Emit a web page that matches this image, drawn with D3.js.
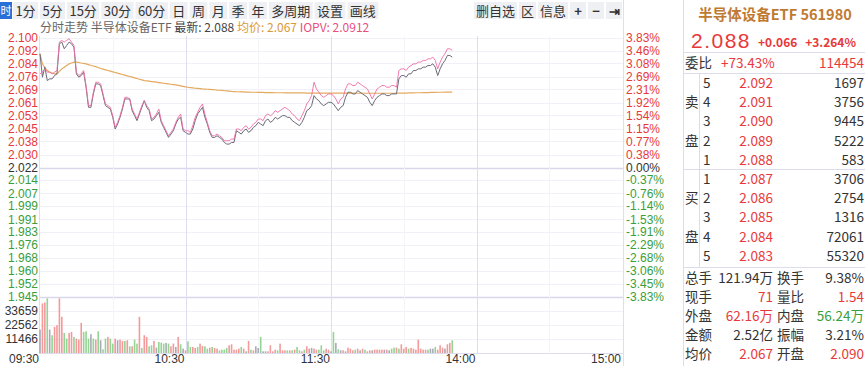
<!DOCTYPE html>
<html>
<head>
<meta charset="utf-8">
<title></title>
<script src="https://d3js.org/d3.v7.min.js"></script>
<style>
body { margin: 0; background: #fff; }
svg text { font-family: "Noto Sans CJK SC", "Liberation Sans", sans-serif; }
.ax text { font-family: "Liberation Sans", Arial, sans-serif; font-size: 12px; }
</style>
</head>
<body>
<script>
// ---- data ----
var preClose = 2.022;
var tabs = ["1分", "5分", "15分", "30分", "60分", "日", "周", "月", "季", "年", "多周期", "设置", "画线"];
var tools = ["删自选", "区", "信息", "+", "−", "⇥"];

var price = [
  2.090,2.076,2.082,2.074,2.075,2.075,2.077,2.078,2.096,2.097,
  2.093,2.095,2.097,2.096,2.094,2.078,2.076,2.077,2.079,2.070,
  2.058,2.058,2.066,2.072,2.072,2.071,2.065,2.059,2.058,2.057,
  2.052,2.045,2.048,2.052,2.057,2.063,2.063,2.063,2.056,2.053,
  2.050,2.054,2.058,2.062,2.058,2.056,2.050,2.051,2.053,2.055,
  2.049,2.046,2.043,2.040,2.042,2.044,2.048,2.051,2.052,2.044,
  2.043,2.042,2.042,2.045,2.050,2.054,2.056,2.058,2.052,2.048,
  2.043,2.040,2.040,2.041,2.040,2.039,2.037,2.036,2.036,2.037,
  2.037,2.044,2.043,2.042,2.044,2.045,2.043,2.044,2.046,2.047,
  2.049,2.048,2.047,2.050,2.051,2.049,2.050,2.052,2.051,2.052,
  2.053,2.053,2.052,2.052,2.050,2.049,2.048,2.047,2.049,2.052,
  2.056,2.057,2.059,2.065,2.063,2.062,2.060,2.059,2.060,2.061,
  2.061,2.060,2.058,2.056,2.058,2.059,2.064,2.067,2.067,2.066,
  2.066,2.068,2.067,2.066,2.065,2.064,2.061,2.059,2.062,2.064,
  2.065,2.066,2.066,2.065,2.065,2.066,2.066,2.066,2.075,2.077,
  2.077,2.076,2.078,2.078,2.080,2.080,2.081,2.081,2.082,2.082,
  2.083,2.083,2.084,2.082,2.077,2.081,2.084,2.086,2.089,2.089,2.088
];

var iopv = [
  2.078,2.079,2.081,2.079,2.079,2.078,2.079,2.080,2.097,2.098,
  2.097,2.098,2.099,2.097,2.095,2.079,2.077,2.078,2.080,2.071,
  2.059,2.059,2.067,2.073,2.073,2.072,2.066,2.060,2.059,2.058,
  2.053,2.046,2.049,2.053,2.058,2.064,2.064,2.063,2.057,2.054,
  2.051,2.055,2.059,2.062,2.059,2.057,2.051,2.052,2.054,2.057,
  2.050,2.047,2.044,2.041,2.043,2.045,2.049,2.052,2.054,2.045,
  2.044,2.044,2.043,2.047,2.052,2.055,2.058,2.060,2.054,2.049,
  2.044,2.041,2.041,2.042,2.041,2.040,2.038,2.038,2.038,2.039,
  2.039,2.045,2.045,2.044,2.046,2.047,2.045,2.046,2.048,2.049,
  2.051,2.051,2.050,2.053,2.054,2.053,2.054,2.056,2.055,2.056,
  2.057,2.058,2.057,2.056,2.054,2.053,2.051,2.050,2.053,2.056,
  2.060,2.062,2.065,2.073,2.069,2.067,2.065,2.064,2.065,2.066,
  2.066,2.065,2.063,2.060,2.063,2.064,2.069,2.072,2.072,2.071,
  2.071,2.073,2.072,2.071,2.070,2.069,2.066,2.063,2.066,2.069,
  2.070,2.071,2.071,2.070,2.070,2.071,2.071,2.070,2.080,2.081,
  2.081,2.080,2.082,2.083,2.084,2.084,2.085,2.085,2.086,2.086,
  2.087,2.087,2.088,2.086,2.081,2.085,2.088,2.090,2.093,2.093,2.092
];

var avgPrice = [
  2.0900,2.0840,2.0815,2.0800,2.0790,2.0785,2.0780,2.0780,2.0795,2.0810,
  2.0820,2.0830,2.0840,2.0845,2.0850,2.0850,2.0848,2.0845,2.0843,2.0840,
  2.0835,2.0830,2.0827,2.0823,2.0818,2.0812,2.0808,2.0804,2.0800,2.0796,
  2.0792,2.0788,2.0784,2.0780,2.0776,2.0772,2.0768,2.0764,2.0760,2.0756,
  2.0752,2.0748,2.0744,2.0740,2.0738,2.0736,2.0734,2.0732,2.0730,2.0728,
  2.0726,2.0724,2.0722,2.0720,2.0718,2.0716,2.0714,2.0711,2.0708,2.0705,
  2.0702,2.0700,2.0698,2.0696,2.0694,2.0693,2.0692,2.0690,2.0689,2.0688,
  2.0687,2.0686,2.0685,2.0683,2.0682,2.0681,2.0679,2.0678,2.0677,2.0675,
  2.0674,2.0673,2.0673,2.0672,2.0672,2.0671,2.0671,2.0670,2.0670,2.0670,
  2.0669,2.0669,2.0669,2.0668,2.0668,2.0668,2.0668,2.0667,2.0667,2.0667,
  2.0667,2.0666,2.0666,2.0666,2.0666,2.0666,2.0666,2.0666,2.0666,2.0666,
  2.0665,2.0665,2.0665,2.0665,2.0665,2.0665,2.0665,2.0665,2.0665,2.0665,
  2.0665,2.0665,2.0665,2.0665,2.0665,2.0665,2.0665,2.0665,2.0665,2.0665,
  2.0664,2.0664,2.0664,2.0664,2.0664,2.0664,2.0664,2.0664,2.0664,2.0664,
  2.0664,2.0664,2.0664,2.0664,2.0664,2.0664,2.0664,2.0664,2.0665,2.0665,
  2.0665,2.0665,2.0666,2.0666,2.0666,2.0667,2.0667,2.0667,2.0668,2.0668,
  2.0668,2.0669,2.0669,2.0669,2.0670,2.0670,2.0670,2.0671,2.0671,2.0671,2.0671
];

var volume = [
  18750,39630,40440,43650,18750,14190,20890,22230,43650,28920,
  16070,11520,16070,16870,12850,11520,10710,24100,16870,17400,
  11520,15000,11520,10710,17400,10180,2950,11520,12850,11520,
  7500,11520,10180,10710,9640,9640,10180,5360,5360,10710,
  7500,28920,4020,14190,12850,5360,6160,9640,4280,8840,
  8300,7500,8030,7500,5360,7500,4820,12850,6960,3480,
  2140,9370,4820,4820,4020,4820,7500,5620,5360,3480,
  4280,4820,4020,3480,2140,2680,2680,4020,6160,6960,
  2680,2680,3480,4820,3480,1340,9640,2680,2140,5360,
  4020,12850,1340,1340,1340,6160,1340,2680,2140,7500,
  2140,2140,2140,2140,2140,2680,4820,2140,1340,2680,
  5360,3480,4020,3480,2680,2680,6160,2140,3480,2680,
  1340,16870,8030,2950,2140,2140,1340,4280,3480,2140,
  2680,3480,2140,3480,2680,1340,2140,2140,2680,2680,
  2680,2680,2680,2680,2140,3480,4280,4280,3480,6960,
  3480,4820,3480,4020,3480,2680,10710,3480,2680,2680,
  2680,3480,3480,4820,2680,6160,4280,3480,6960,8030,10180
];
// u = up tick, d = down tick, n = unchanged
var volDir = ("nuudnduuuu dduuduuudd dndudnddud dunuududud duduuddund " +
  "ddnduunudn udduuduudd uduudddduu uuudunudun ndnnuuuudu " +
  "uudududdud uunuuddduu ndndnunuuu dunuduunuu uununddudu " +
  "uuduuuuuuu dnnduuunuud").replace(/ /g, "").split("");

var priceLabels = ["2.100","2.092","2.084","2.076","2.069","2.061","2.053","2.045","2.038","2.030","2.022",
  "2.014","2.007","1.999","1.991","1.983","1.976","1.968","1.960","1.952","1.945"];
var pctLabels = [3.83,3.46,3.08,2.69,2.31,1.92,1.54,1.15,0.77,0.38,0,
  -0.37,-0.76,-1.14,-1.53,-1.91,-2.29,-2.68,-3.06,-3.45,-3.83];
var volTicks = [11466, 22562, 33659];
var volMax = 44755;
var timeTicks = [0, 60, 120, 180, 240];
var timeLabels = ["09:30", "10:30", "11:30", "14:00", "15:00"];

var stockName = "半导体设备ETF 561980";
var lastPrice = "2.088", change = "+0.066", changePct = "+3.264%";
var weibi = ["委比", "+73.43%", "114454"];
var sellLevels = [5, 4, 3, 2, 1];
var sellPrices = ["2.092", "2.091", "2.090", "2.089", "2.088"];
var sellVols = [1697, 3756, 9445, 5222, 583];
var buyLevels = [1, 2, 3, 4, 5];
var buyPrices = ["2.087", "2.086", "2.085", "2.084", "2.083"];
var buyVols = [3706, 2754, 1316, 72061, 55320];
var statNames = [["总手", "换手"], ["现手", "量比"], ["外盘", "内盘"], ["金额", "振幅"], ["均价", "开盘"]];
var statVals = [["121.94万", "9.38%"], ["71", "1.54"], ["62.16万", "56.24万"], ["2.52亿", "3.21%"], ["2.067", "2.090"]];
var statTone = [["n", "n"], ["u", "u"], ["u", "d"], ["n", "n"], ["u", "u"]];

// ---- drawing ----
var RED = "#e8393a", GREEN = "#3a9e3a", DARK = "#333";
var tone = { u: RED, d: GREEN, n: DARK };
var barColor = { u: "#f39a9a", d: "#94d494", n: "#a9a9b8" };

var svg = d3.select("body").append("svg")
  .attr("width", 865).attr("height", 366);
svg.append("rect").attr("width", 865).attr("height", 366).attr("fill", "#fff");

var x = d3.scaleLinear().domain([0, 240]).range([40, 622]);
var y = d3.scaleLinear().domain([preClose * (1 - 0.0383), preClose * (1 + 0.0383)]).range([297, 38]);
var vy = d3.scaleLinear().domain([0, volMax]).range([353, 297]);

// toolbar tabs
var tb = svg.append("g");
tb.append("rect").attr("x", 0).attr("y", 2).attr("width", 12).attr("height", 17).attr("fill", "#2a6fd8");
tb.append("text").attr("x", 0.5).attr("y", 15).attr("fill", "#fff").style("font-size", "11px").text("时");
var tx = 13;
tabs.forEach(function(t) {
  var g = tb.append("g");
  var r = g.append("rect").attr("y", 2).attr("height", 17).attr("fill", "#eef0f4");
  var txt = g.append("text").attr("y", 15.5).attr("fill", "#333").style("font-size", "13px").text(t);
  var w = txt.node().getComputedTextLength() + 4.8;
  r.attr("x", tx).attr("width", w);
  txt.attr("x", tx + 2.4);
  tx += w + 2;
});
var rx = 622;
tools.slice().reverse().forEach(function(t) {
  var g = tb.append("g");
  var r = g.append("rect").attr("y", 2).attr("height", 17).attr("fill", "#eef0f4");
  var txt = g.append("text").attr("y", 15.5).attr("fill", "#333")
    .style("font-size", "13px").style("font-weight", t.length === 1 && t !== "区" ? "bold" : null).text(t);
  var w = Math.max(txt.node().getComputedTextLength() + 4, 16);
  r.attr("x", rx - w).attr("width", w);
  txt.attr("x", rx - w / 2).attr("text-anchor", "middle");
  rx -= w + 2;
});

// info line
var info = svg.append("text").attr("x", 40).attr("y", 32).style("font-size", "12px");
info.append("tspan").attr("fill", "#666").text("分时走势  半导体设备ETF  ");
info.append("tspan").attr("fill", "#444").text("最新: " + lastPrice + "  ");
info.append("tspan").attr("fill", "#d99a3a").text("均价: 2.067  ");
info.append("tspan").attr("fill", "#e8507e").text("IOPV: 2.0912");

// grid
var grid = svg.append("g");
pctLabels.forEach(function(p, i) {
  var yy = Math.round(y(preClose * (1 + p / 100))) + 0.5;
  var strong = (p === 0 || i === pctLabels.length - 1);
  grid.append("line").attr("x1", 40).attr("x2", 623).attr("y1", yy).attr("y2", yy)
    .attr("stroke", strong ? "#d8d8ea" : "#f0f0f6").attr("stroke-width", strong ? 1.5 : 1);
});
volTicks.forEach(function(v) {
  var yy = Math.round(vy(v)) + 0.5;
  grid.append("line").attr("x1", 40).attr("x2", 623).attr("y1", yy).attr("y2", yy).attr("stroke", "#f0f0f6");
});
grid.append("line").attr("x1", 40).attr("x2", 623).attr("y1", 353.5).attr("y2", 353.5).attr("stroke", "#dcdcec");
d3.range(30, 240, 30).forEach(function(m) {
  var xx = Math.round(x(m)) + 0.5;
  grid.append("line").attr("x1", xx).attr("x2", xx).attr("y1", 36).attr("y2", 354)
    .attr("stroke", m % 60 === 0 ? "#dedef0" : "#f4f4f8");
});
grid.append("line").attr("x1", 39.5).attr("x2", 39.5).attr("y1", 36).attr("y2", 354).attr("stroke", "#dedef0");
grid.append("line").attr("x1", 623.5).attr("x2", 623.5).attr("y1", 0).attr("y2", 366).attr("stroke", "#dedef0");

// axes labels
var ax = svg.append("g").attr("class", "ax");
pctLabels.forEach(function(p, i) {
  var yy = y(preClose * (1 + p / 100));
  var c = p > 0 ? RED : (p < 0 ? GREEN : DARK);
  ax.append("text").attr("x", 38).attr("y", yy).attr("dy", "0.36em").attr("text-anchor", "end")
    .attr("fill", c).text(priceLabels[i]);
  ax.append("text").attr("x", 626).attr("y", yy).attr("dy", "0.36em")
    .attr("fill", c).text(p.toFixed(2) + "%");
});
volTicks.forEach(function(v) {
  ax.append("text").attr("x", 38).attr("y", vy(v)).attr("dy", "0.36em").attr("text-anchor", "end")
    .attr("fill", DARK).text(v);
});
timeTicks.forEach(function(m, i) {
  ax.append("text").attr("x", x(m) - 1).attr("y", 359).attr("dy", "0.36em").attr("text-anchor", "end")
    .attr("fill", DARK).style("font-size", "12px").text(timeLabels[i]);
});

// volume bars
svg.append("g").selectAll("rect").data(volume).join("rect")
  .attr("x", function(d, i) { return x(i) - 0.8; })
  .attr("width", 1.6)
  .attr("y", function(d) { return vy(d); })
  .attr("height", function(d) { return 353 - vy(d); })
  .attr("fill", function(d, i) { return barColor[volDir[i]]; });

// lines
var line = d3.line().x(function(d, i) { return x(i); }).y(function(d) { return y(d); });
svg.append("path").datum(avgPrice).attr("d", line).attr("fill", "none").attr("stroke", "#e4a95e").attr("stroke-width", 1.2);
svg.append("path").datum(price).attr("d", line).attr("fill", "none").attr("stroke", "#6a6a78").attr("stroke-width", 1);
svg.append("path").datum(iopv).attr("d", line).attr("fill", "none").attr("stroke", "#ef6fa6").attr("stroke-width", 1).attr("opacity", 0.9);

// right panel
var p = svg.append("g");
var pl = "#dcdcec";
p.append("line").attr("x1", 683.5).attr("x2", 683.5).attr("y1", 0).attr("y2", 366).attr("stroke", pl);
[52.5, 73.5, 169.5, 267.5].forEach(function(yy) {
  p.append("line").attr("x1", 684).attr("x2", 865).attr("y1", yy).attr("y2", yy).attr("stroke", pl);
});
p.append("line").attr("x1", 699.5).attr("x2", 699.5).attr("y1", 74).attr("y2", 267).attr("stroke", pl);

p.append("text").attr("x", 775).attr("y", 20).attr("text-anchor", "middle").attr("fill", "#bf7a32")
  .style("font-size", "14.5px").style("font-weight", "bold").text(stockName);
p.append("text").attr("x", 691).attr("y", 48).attr("fill", RED)
  .style("font-family", "Liberation Sans").style("font-size", "21px").style("letter-spacing", "1.5px").text(lastPrice);
p.append("text").attr("x", 758).attr("y", 47).attr("fill", RED)
  .style("font-size", "12px").style("font-weight", "bold").text(change);
p.append("text").attr("x", 856).attr("y", 47).attr("fill", RED).attr("text-anchor", "end")
  .style("font-size", "12px").style("font-weight", "bold").text(changePct);

function cell(xx, yy, txt, c, anchor) {
  p.append("text").attr("x", xx).attr("y", yy).attr("dy", "0.36em").attr("fill", c)
    .attr("text-anchor", anchor || "start").style("font-size", "13.5px").text(txt);
}
cell(685, 63, weibi[0], DARK);
cell(721, 63, weibi[1], RED);
cell(864, 63, weibi[2], RED, "end");

var rowY = d3.scaleLinear().domain([0, 4]).range([83, 160]);
sellLevels.forEach(function(l, i) {
  var yy = rowY(i);
  cell(703, yy, l, DARK);
  cell(773, yy, sellPrices[i], RED, "end");
  cell(864, yy, sellVols[i], DARK, "end");
});
cell(685, rowY(1), "卖", DARK);
cell(685, rowY(3), "盘", DARK);
var rowY2 = d3.scaleLinear().domain([0, 4]).range([179, 256]);
buyLevels.forEach(function(l, i) {
  var yy = rowY2(i);
  cell(703, yy, l, DARK);
  cell(773, yy, buyPrices[i], RED, "end");
  cell(864, yy, buyVols[i], DARK, "end");
});
cell(685, rowY2(1), "买", DARK);
cell(685, rowY2(3), "盘", DARK);

var rowY3 = d3.scaleLinear().domain([0, 4]).range([278, 354]);
statNames.forEach(function(n, i) {
  var yy = rowY3(i);
  cell(685, yy, n[0], DARK);
  cell(773, yy, statVals[i][0], tone[statTone[i][0]], "end");
  cell(777, yy, n[1], DARK);
  cell(864, yy, statVals[i][1], tone[statTone[i][1]], "end");
});
</script>
</body>
</html>
